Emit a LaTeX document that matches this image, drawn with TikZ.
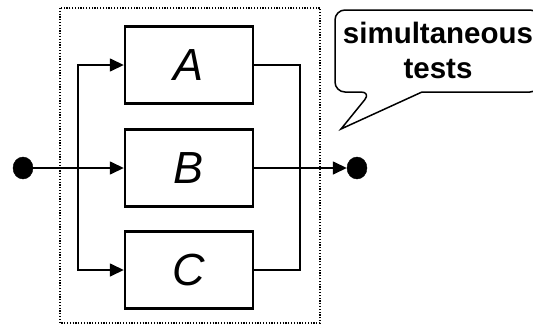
\documentclass[tikz,border=0pt]{standalone}
\usepackage{fontspec}
\setmainfont{Liberation Sans}
\usetikzlibrary{arrows.meta,shapes.geometric}
\begin{document}
\begin{tikzpicture}[x=1pt,y=-1pt,
  blk/.style={draw, line width=2.4pt, minimum width=128pt, minimum height=77pt,
    inner sep=0pt, font=\itshape\fontsize{45}{45}\selectfont},
  wire/.style={line width=1.5pt},
  arr/.style={wire, -{Triangle[length=14pt,width=13pt]}},
  dot/.style={draw, fill=black, ellipse, minimum width=20pt, minimum height=22pt, inner sep=0pt},
  frame/.style={line width=1.2pt, dash pattern=on 1.2pt off 1.6pt},
  callout/.style={line width=1.5pt, fill=white}]
\useasboundingbox (0,0) rectangle (533,327);
\clip (0,0) rectangle (533,327);
% dotted frame
\draw[frame] (60,8) rectangle (320,323);
% blocks
\node[blk] (A) at (189,65) {A};
\node[blk] (B) at (189,168) {B};
\node[blk] (C) at (189,270) {C};
% terminals
\node[dot] (in) at (23,168) {};
\node[dot] (out) at (357,168) {};
% junctions
\coordinate (s) at (78,168);
\coordinate (m) at (300,168);
% connectors
\draw[arr] (in) -- (B.west);
\draw[arr] (s) |- (A.west);
\draw[arr] (s) |- (C.west);
\draw[wire] (A.east) -| (m);
\draw[wire] (C.east) -| (m);
\draw[arr] (B.east) -- (out);
% callout
\draw[callout] (422,92) [rounded corners=10pt] -- (540,92) -- (540,10) -- (335,10) -- (335,92) -- (371,92) [sharp corners] -- (341,129) -- cycle;
\node[font=\bfseries\fontsize{29.5}{35}\selectfont, align=center, inner sep=0pt] (lbl) at (438,50) {simultaneous\\tests};
\end{tikzpicture}
\end{document}
